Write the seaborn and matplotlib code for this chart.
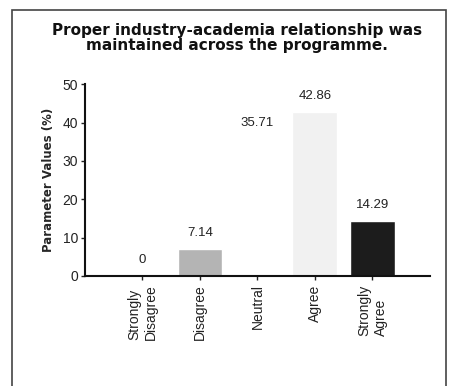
import matplotlib
matplotlib.use('Agg')
import matplotlib.pyplot as plt
import seaborn as sns
import pandas as pd
from matplotlib.patches import Rectangle

categories = ['Strongly\nDisagree', 'Disagree', 'Neutral', 'Agree', 'Strongly\nAgree']
values = [0, 7.14, 35.71, 42.86, 14.29]
value_labels = ['0', '7.14', '35.71', '42.86', '14.29']
bar_colors = ['#ffffff', '#b4b4b4', '#ffffff', '#f1f1f1', '#1c1c1c']

sns.set_theme(style='white')
plt.rcParams['font.family'] = ['Liberation Sans', 'DejaVu Sans']

df = pd.DataFrame({'Response': categories, 'Percent': values})

fig = plt.figure(figsize=(4.52, 3.86), dpi=100)
ax = fig.add_axes([0.188, 0.285, 0.763, 0.497])

sns.barplot(data=df, x='Response', y='Percent', hue='Response',
            palette=bar_colors, legend=False, width=0.78,
            saturation=1, ax=ax)

for i, (v, lab) in enumerate(zip(values, value_labels)):
    ax.annotate(lab, (i, v), xytext=(0, 7), textcoords='offset points',
                ha='center', va='bottom', fontsize=9.5, color='#222222')

ax.set_xlim(-1, 5)
ax.set_ylim(0, 50)
ax.set_yticks([0, 10, 20, 30, 40, 50])
ax.set_xlabel('')
ax.set_ylabel('Parameter Values (%)', fontsize=8.5, fontweight='bold',
              family='DejaVu Sans', labelpad=5)
ax.tick_params(axis='y', labelsize=10, length=3, width=1, direction='out',
               left=True, pad=2, colors='#222222')
ax.tick_params(axis='x', labelsize=10, length=3, width=1, direction='out',
               bottom=True, pad=3, colors='#222222')
plt.setp(ax.get_xticklabels(), rotation=90, ha='center', va='top',
         multialignment='left')

sns.despine(ax=ax)
for side in ['left', 'bottom']:
    ax.spines[side].set_color('#111111')
    ax.spines[side].set_linewidth(1.5)

fig.text(0.524, 0.902, 'Proper industry-academia relationship was\nmaintained across the programme.',
         ha='center', va='center', fontsize=11, fontweight='bold',
         family='DejaVu Sans', linespacing=1.05, color='#111111')

fig.patches.append(Rectangle((0.027, -0.01), 0.96, 0.985, transform=fig.transFigure,
                             fill=False, edgecolor='#444444', linewidth=1.2))

fig.savefig('out.png', dpi=100)
